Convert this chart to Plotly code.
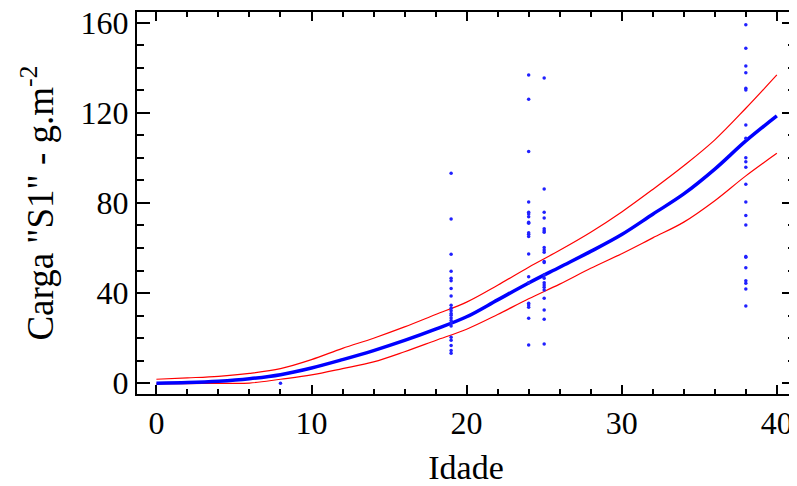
import plotly.graph_objects as go

# Observed data
obs_x = ([8] + [19] * 22 + [24] * 20 + [25] * 22 + [38] * 22)
obs_y = (
    [0.0]
    + [93.2, 72.9, 57.2, 49.7, 46.6, 45.5, 42.1, 38.7, 34.6, 33.3, 32.2,
       31.0, 30.2, 29.0, 27.9, 26.8, 25.4, 20.4, 19.1, 16.8, 14.5, 13.3]
    + [136.8, 126.0, 102.8, 80.4, 75.9, 75.1, 73.9, 71.4, 71.0, 66.8,
       66.1, 65.1, 57.4, 47.3, 44.6, 35.5, 34.7, 33.7, 28.8, 17.0]
    + [135.4, 86.2, 75.9, 73.3, 68.6, 67.7, 67.0, 60.2, 59.1, 58.1, 54.0,
       53.6, 48.0, 46.6, 44.6, 43.6, 42.6, 41.4, 37.7, 32.5, 28.4, 17.4]
    + [159.0, 148.6, 140.8, 137.8, 130.9, 130.1, 114.6, 108.7, 100.1, 98.3,
       95.8, 88.3, 80.4, 74.4, 70.2, 56.2, 55.9, 51.2, 45.5, 44.4, 41.8, 34.3]
)

# Fitted curve and confidence limits
fit_x = [0, 2, 4, 6, 8, 10, 12, 14, 16, 18, 20, 22, 24, 26, 28, 30, 32, 34, 36, 38, 40]
fit_y = [0.0, 0.3, 0.9, 2.0, 3.8, 6.8, 10.5, 14.5, 19.0, 24.0, 29.5,
         37.0, 44.5, 51.5, 58.5, 66.0, 75.0, 84.0, 95.0, 107.5, 118.6]
upper_y = [1.8, 2.4, 3.1, 4.4, 6.5, 10.5, 15.5, 20.0, 25.0, 30.5, 36.0,
           43.5, 51.5, 59.0, 67.0, 76.0, 86.0, 96.5, 108.0, 122.0, 136.8]
lower_y = [-0.3, -0.2, 0.0, 0.1, 1.8, 3.7, 6.5, 9.5, 14.0, 19.0, 24.0,
           30.5, 37.5, 44.0, 51.0, 57.5, 64.5, 71.5, 81.0, 92.0, 102.0]

x_ticks = [0, 10, 20, 30, 40]
y_ticks = [0, 40, 80, 120, 160]

fig = go.Figure()
fig.add_trace(go.Scatter(x=fit_x, y=upper_y, mode="lines", line_shape="spline",
                         line=dict(color="#ff0000", width=1.2), showlegend=False))
fig.add_trace(go.Scatter(x=fit_x, y=lower_y, mode="lines", line_shape="spline",
                         line=dict(color="#ff0000", width=1.2), showlegend=False))
fig.add_trace(go.Scatter(x=fit_x, y=fit_y, mode="lines", line_shape="spline",
                         line=dict(color="#0000ff", width=3.5), showlegend=False))
fig.add_trace(go.Scatter(x=obs_x, y=obs_y, mode="markers",
                         marker=dict(color="#2020ff", size=3.5, line=dict(width=0)),
                         showlegend=False))

tickfont = dict(family="Liberation Serif, Times New Roman, serif", size=32, color="black")
xtitlefont = dict(family="Liberation Serif, Times New Roman, serif", size=34, color="black")
ytitlefont = dict(family="Liberation Serif, Times New Roman, serif", size=37, color="black")

# page body has an 8px margin, so the figure is sized/offset to compensate
fig.update_layout(
    width=789, height=478,
    margin=dict(l=129, r=2, t=4, b=92),
    paper_bgcolor="white", plot_bgcolor="white",
    font=tickfont,
    xaxis=dict(
        range=[-1.25, 41.17], tickvals=x_ticks, ticktext=[str(v) for v in x_ticks],
        ticks="inside", ticklen=9, tickwidth=2, tickcolor="black",
        showline=True, linewidth=2, linecolor="black", mirror="ticks",
        showgrid=False, zeroline=False, automargin=False, ticklabeloverflow="allow",
        minor=dict(ticks="inside", ticklen=5, tickwidth=1.5, tickcolor="black", dtick=2, showgrid=False),
        title=dict(text="Idade", font=xtitlefont, standoff=15),
        tickfont=tickfont,
    ),
    yaxis=dict(
        range=[-4.75, 164.7], tickvals=y_ticks, ticktext=[str(v) for v in y_ticks],
        ticks="inside", ticklen=13, tickwidth=2, tickcolor="black",
        showline=True, linewidth=2, linecolor="black", mirror="ticks",
        showgrid=False, zeroline=False, automargin=False, ticklabeloverflow="allow",
        minor=dict(ticks="inside", ticklen=7, tickwidth=1.5, tickcolor="black", dtick=10, showgrid=False),
        title=dict(text='Carga "S1" - g.m<sup>-2</sup>', font=ytitlefont, standoff=16),
        tickfont=tickfont,
    ),
)

fig.write_html("out.html")
